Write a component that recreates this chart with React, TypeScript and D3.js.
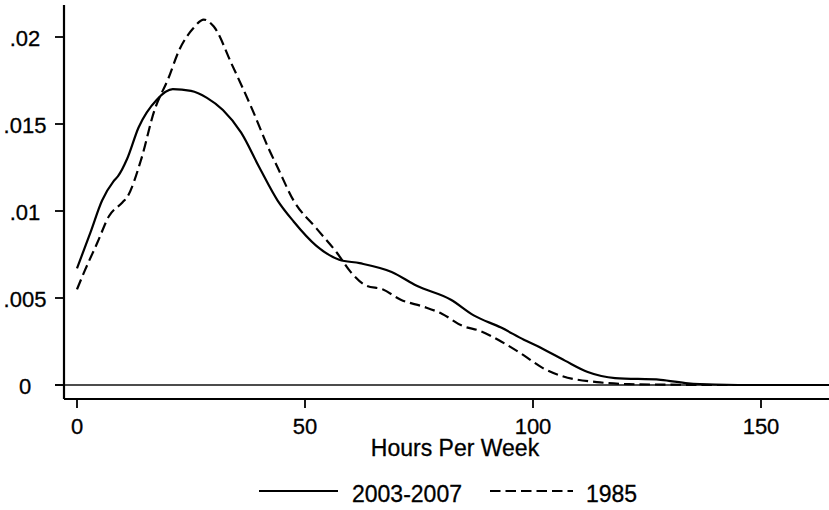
import React from 'react';
import * as d3 from 'd3';

// kernel density of weekly hours
const recentHours = [0, 3, 5.5, 8, 9, 11, 13.5, 17.5, 21, 25, 28.5, 32, 36, 40, 44, 47.5, 52.5, 57.5, 62, 69, 74.5, 82, 87, 93, 98, 102, 107, 112, 118, 128, 134, 140, 150, 166];
const recentDensity = [0.0067, 0.0088, 0.0106, 0.0117, 0.012, 0.013, 0.0148, 0.0164, 0.017, 0.0169, 0.0165, 0.0158, 0.0145, 0.0125, 0.0106, 0.0094, 0.008, 0.0072, 0.007, 0.0065, 0.0057, 0.0049, 0.004, 0.0033, 0.0026, 0.0021, 0.0014, 0.00075, 0.0004, 0.0003, 0.0001, 0.00003, 0, 0];

const oldHours = [0, 1.75, 4.5, 7, 10, 11, 14, 17, 20, 22.5, 25.5, 27.8, 30, 34, 38.5, 42, 44, 47.5, 52.5, 57, 60, 63.5, 67, 71, 76, 80, 84.5, 88.5, 93, 98, 102, 106.5, 114, 121, 130, 140, 166];
const oldDensity = [0.0055, 0.0066, 0.0082, 0.0097, 0.0105, 0.0108, 0.0129, 0.0158, 0.0176, 0.0193, 0.0205, 0.021, 0.0206, 0.0184, 0.0158, 0.0136, 0.0125, 0.0106, 0.009, 0.0076, 0.0065, 0.0057, 0.0055, 0.0049, 0.0045, 0.0041, 0.0034, 0.0031, 0.0025, 0.0017, 0.001, 0.0005, 0.00017, 0.00005, 0.00002, 0, 0];

const xTicks = [0, 50, 100, 150];
const yTicks = [0, 0.005, 0.01, 0.015, 0.02];
const yTickLabels = ['0', '.005', '.01', '.015', '.02'];
const seriesNames = ['2003-2007', '1985'];

const W = 829, H = 510;
const left = 64, top = 5, bottom = 399, right = 829;
const font = '"Liberation Sans", Arial, sans-serif';
const dash = '10.5,5';

export default function App() {
  const x = d3.scaleLinear().domain([0, 150]).range([77, 761]);
  const y = d3.scaleLinear().domain([0, 0.02]).range([385, 37]);

  const line = d3.line<[number, number]>()
    .x(d => x(d[0]))
    .y(d => y(d[1]))
    .curve(d3.curveMonotoneX);

  const recent = line(recentHours.map((h, i) => [h, recentDensity[i]] as [number, number]));
  const old = line(oldHours.map((h, i) => [h, oldDensity[i]] as [number, number]));

  return (
    <svg width={W} height={H} style={{ position: 'absolute', left: 0, top: 0 }} fontFamily={font}>
      <rect width={W} height={H} fill="#fff" />
      <defs>
        <clipPath id="plot">
          <rect x={left} y={top} width={right - left} height={bottom - top} />
        </clipPath>
      </defs>

      {/* zero line */}
      <line x1={55} x2={right} y1={y(0)} y2={y(0)} stroke="#111" strokeWidth={1.6} />

      <g clipPath="url(#plot)" fill="none" stroke="#000" strokeWidth={2.2}>
        <path d={recent || ''} />
        <path d={old || ''} strokeDasharray={dash} />
      </g>

      {/* axes */}
      <line x1={left} x2={left} y1={top} y2={bottom} stroke="#000" strokeWidth={2.2} />
      <line x1={left} x2={right} y1={bottom} y2={bottom} stroke="#000" strokeWidth={2.2} />

      <g fill="#000" stroke="#000" strokeWidth={0.3}>
        {yTicks.map((t, i) => (
          <g key={t}>
            <line x1={55} x2={left} y1={y(t)} y2={y(t)} strokeWidth={1.8} />
            <text x={25} y={y(t) + 9} textAnchor="middle" fontSize={22}>{yTickLabels[i]}</text>
          </g>
        ))}

        {xTicks.map(t => (
          <g key={t}>
            <line x1={x(t)} x2={x(t)} y1={bottom} y2={bottom + 9} strokeWidth={1.8} />
            <text x={x(t)} y={434} textAnchor="middle" fontSize={22}>{t}</text>
          </g>
        ))}

        <text x={455} y={456} textAnchor="middle" fontSize={23}>Hours Per Week</text>

        {/* legend */}
        <text x={352} y={502} fontSize={23}>{seriesNames[0]}</text>
        <text x={586} y={502} fontSize={23}>{seriesNames[1]}</text>
      </g>
      <line x1={259} x2={338} y1={491} y2={491} stroke="#000" strokeWidth={2.2} />
      <line x1={490} x2={573} y1={491} y2={491} stroke="#000" strokeWidth={2.2} strokeDasharray={dash} />
    </svg>
  );
}
